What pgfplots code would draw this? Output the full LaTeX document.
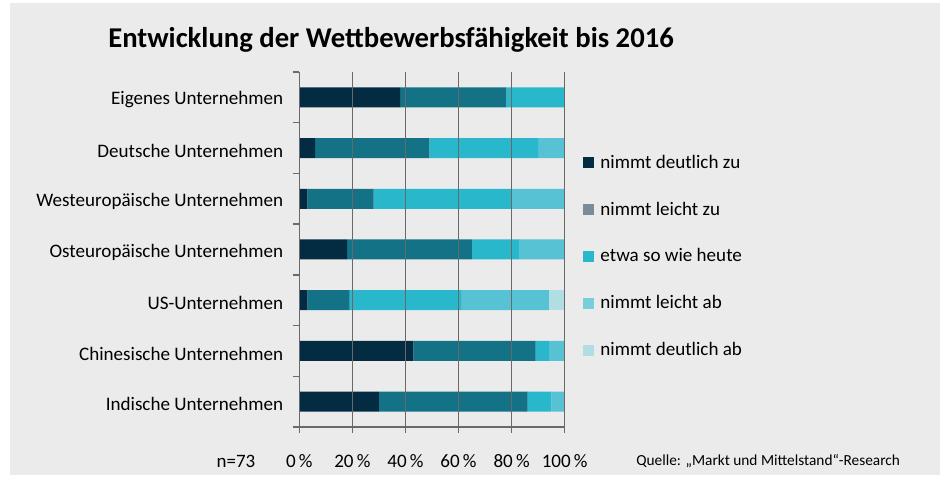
\documentclass[border=0pt]{standalone}
\usepackage{pgfplots}
\pgfplotsset{compat=1.18}
\usepackage{fontspec}
\setmainfont{Carlito}
\definecolor{bgc}{RGB}{235,235,235}
\definecolor{c1}{RGB}{3,43,66}
\definecolor{c2}{RGB}{19,114,133}
\definecolor{c3}{RGB}{41,183,204}
\definecolor{c4}{RGB}{86,194,211}
\definecolor{c5}{RGB}{177,222,228}
\definecolor{l2}{RGB}{122,140,153}
\definecolor{l4}{RGB}{119,207,219}
\definecolor{gridc}{RGB}{105,105,105}
\pgfplotstableread{
y  a  b  c  d  e
6  38 40 22 0  0
5  6  43 41 10 0
4  3  25 52 20 0
3  18 47 18 17 0
2  3  16 42 33 6
1  43 46 5  6  0
0  30 56 9  5  0
}\datatable
\begin{document}
\begin{tikzpicture}[x=0.75pt,y=0.75pt]
\useasboundingbox (0,0) rectangle (944,477);
\fill[white] (0,0) rectangle (944,477);
\fill[bgc] (10,2) rectangle (940,474);
\node[anchor=base west,font=\fontsize{21.5pt}{24pt}\selectfont\bfseries,inner sep=0pt] at (108,429) {Entwicklung der Wettbewerbsfähigkeit bis 2016};
\node[anchor=base,font=\fontsize{14.2pt}{16pt}\selectfont,inner sep=0pt] at (236,9) {n=73};
\node[anchor=base west,font=\fontsize{11.5pt}{13pt}\selectfont,inner sep=0pt] at (636,11) {Quelle: „Markt und Mittelstand“-Research};
\begin{axis}[
  at={(224.475pt,37.5pt)}, anchor=south west,
  scale only axis, width=199.05pt, height=266.25pt,
  xbar stacked, bar width=15pt,
  xmin=0, xmax=100, ymin=-0.5, ymax=6.5,
  axis lines*=left,
  axis line style={gridc, line width=1pt},
  axis on top,
  xmajorgrids, grid style={gridc, line width=1pt},
  xtick={0,20,40,60,80,100},
  xticklabels={0\,\%,20\,\%,40\,\%,60\,\%,80\,\%,100\,\%},
  xticklabel style={font=\fontsize{14.3pt}{16pt}\selectfont, yshift=-12.5pt},
  ytick={0,...,6},
  yticklabels={Indische Unternehmen,Chinesische Unternehmen,US-Unternehmen,Osteuropäische Unternehmen,Westeuropäische Unternehmen,Deutsche Unternehmen,Eigenes Unternehmen},
  yticklabel style={font=\fontsize{14.3pt}{16pt}\selectfont, inner sep=0pt, xshift=-7.5pt, yshift=-2pt},
  minor ytick={-0.5,0.5,...,6.5},
  tick align=outside,
  major tick length=4.5pt, minor tick length=4.5pt,
  major y tick style={draw=none}, minor y tick style={draw=gridc, line width=1pt},
  xtick style={gridc, line width=1pt},
  legend style={at={(1.069,0.775)}, anchor=north west, draw=none, fill=none,
    font=\fontsize{14.3pt}{16pt}\selectfont, row sep=19.8pt, inner sep=0pt,
    legend cell align=left},
]
\addplot[fill=c1, draw=none, forget plot] table[x=a,y=y] {\datatable};
\addplot[fill=c2, draw=none, forget plot] table[x=b,y=y] {\datatable};
\addplot[fill=c3, draw=none, forget plot] table[x=c,y=y] {\datatable};
\addplot[fill=c4, draw=none, forget plot] table[x=d,y=y] {\datatable};
\addplot[fill=c5, draw=none, forget plot] table[x=e,y=y] {\datatable};
\addlegendimage{legend image code/.code={\fill[c1] (0pt,-3.75pt) rectangle (7.5pt,3.75pt); \path (10.5pt,0pt);}}
\addlegendentry{nimmt deutlich zu}
\addlegendimage{legend image code/.code={\fill[l2] (0pt,-3.75pt) rectangle (7.5pt,3.75pt); \path (10.5pt,0pt);}}
\addlegendentry{nimmt leicht zu}
\addlegendimage{legend image code/.code={\fill[c3] (0pt,-3.75pt) rectangle (7.5pt,3.75pt); \path (10.5pt,0pt);}}
\addlegendentry{etwa so wie heute}
\addlegendimage{legend image code/.code={\fill[l4] (0pt,-3.75pt) rectangle (7.5pt,3.75pt); \path (10.5pt,0pt);}}
\addlegendentry{nimmt leicht ab}
\addlegendimage{legend image code/.code={\fill[c5] (0pt,-3.75pt) rectangle (7.5pt,3.75pt); \path (10.5pt,0pt);}}
\addlegendentry{nimmt deutlich ab}
\end{axis}
\end{tikzpicture}
\end{document}
